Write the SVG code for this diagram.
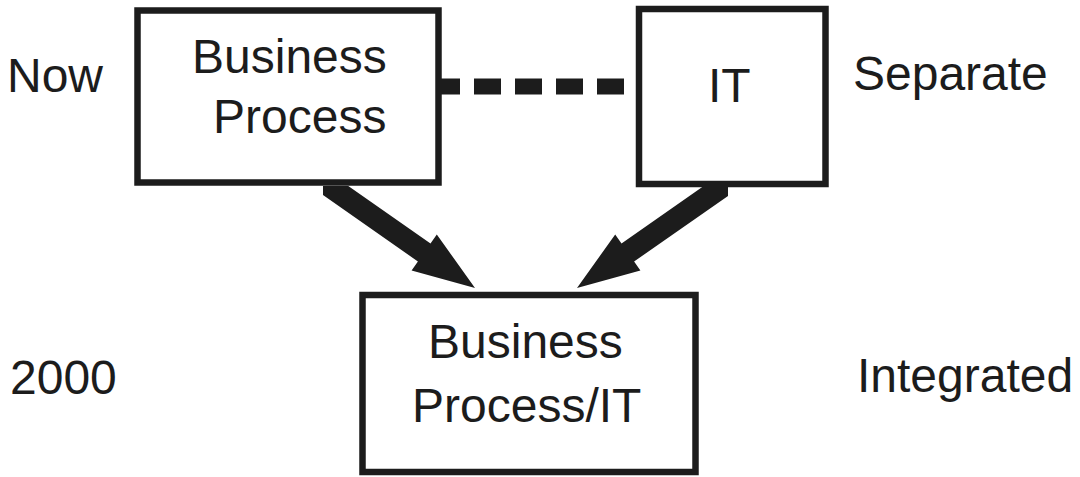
<svg xmlns="http://www.w3.org/2000/svg" width="1080" height="477" viewBox="0 0 1080 477">
  <style>
    .box { fill: #ffffff; stroke: #1c1c1c; stroke-width: 6.5; }
    .lbl { font-family: "Liberation Sans", Arial, sans-serif; font-size: 48px; fill: #1c1c1c; }
    .arrow { fill: #1c1c1c; }
    .dash { stroke: #1c1c1c; stroke-width: 16; stroke-dasharray: 27 14; fill: none; }
  </style>
  <rect width="1080" height="477" fill="#ffffff"/>

  <!-- side labels -->
  <g id="labels">
    <text class="lbl" x="7" y="92">Now</text>
    <text class="lbl" x="853" y="90">Separate</text>
    <text class="lbl" x="10" y="394">2000</text>
    <text class="lbl" x="857" y="392">Integrated</text>
  </g>

  <!-- connectors -->
  <g id="connectors">
    <line class="dash" x1="433" y1="86.5" x2="625" y2="86.5"/>
    <polygon class="arrow" points="323,186 323,195 417.9,261.5 411.6,270.5 475,288 436.8,234.5 430.5,243.5 348.3,186"/>
    <polygon class="arrow" points="703.7,186 728,186 728,196 634.1,261.5 640.4,270.5 577,288 615.2,234.5 621.5,243.5"/>
  </g>

  <g id="business-process">
    <rect class="box" x="137.5" y="10.5" width="301" height="172"/>
    <text class="lbl" x="192" y="73">Business</text>
    <text class="lbl" x="213" y="133">Process</text>
  </g>

  <g id="it">
    <rect class="box" x="639" y="9" width="186.5" height="175"/>
    <text class="lbl" x="708" y="102">IT</text>
  </g>

  <g id="business-process-it">
    <rect class="box" x="362.5" y="295" width="333" height="177"/>
    <text class="lbl" x="428" y="358">Business</text>
    <text class="lbl" x="412" y="422">Process/IT</text>
  </g>
</svg>
